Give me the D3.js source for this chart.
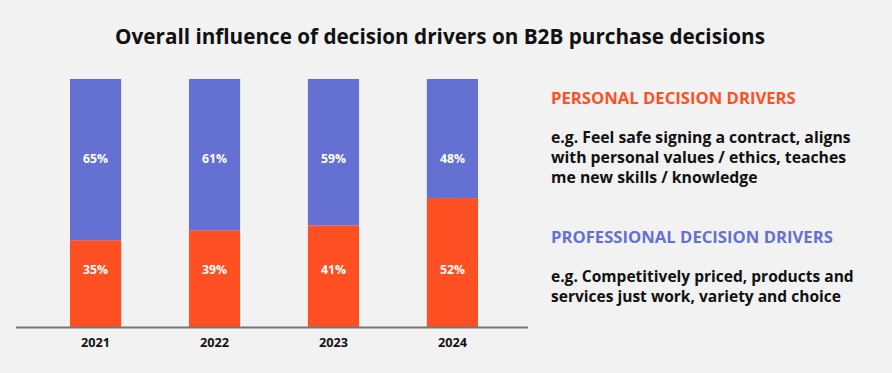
<!DOCTYPE html>
<html>
<head>
<meta charset="utf-8">
<script src="https://cdn.jsdelivr.net/npm/d3@7"></script>
<style>
  body { margin: 0; background: #f2f2f2; }
  svg { display: block; font-family: "Open Sans", "Lato", sans-serif; }
</style>
</head>
<body>
<svg id="chart"></svg>
<script>
var years = ["2021", "2022", "2023", "2024"]
var personal = [35, 39, 41, 52]
var professional = [65, 61, 59, 48]

var personalTitle = "PERSONAL DECISION DRIVERS"
var personalText = ["e.g. Feel safe signing a contract, aligns", "with personal values / ethics, teaches", "me new skills / knowledge"]
var professionalTitle = "PROFESSIONAL DECISION DRIVERS"
var professionalText = ["e.g. Competitively priced, products and", "services just work, variety and choice"]

var dimensions = {
    width: 892,
    height: 373,
    margin: { top: 79, bottom: 46, left: 70, right: 414 }
}
var orange = "#ff5024"
var blue = "#6470d2"

var svg = d3.select("#chart")
            .attr("width", dimensions.width)
            .attr("height", dimensions.height)

svg.append("rect")
   .attr("width", dimensions.width)
   .attr("height", dimensions.height)
   .attr("fill", "#f2f2f2")

// shrink/grow font so that a text node spans the wanted width
function fit(sel, target) {
    var w = sel.node().getComputedTextLength()
    var fs = parseFloat(sel.style("font-size"))
    return fs * target / w
}

var data = years.map((y, i) => ({ year: y, personal: personal[i], professional: professional[i] }))

var xScale = d3.scaleBand()
               .domain(years)
               .range([dimensions.margin.left, dimensions.width - dimensions.margin.right])
               .paddingInner(0.57)
               .paddingOuter(0)

var yScale = d3.scaleLinear()
               .domain([0, 100])
               .range([dimensions.height - dimensions.margin.bottom, dimensions.margin.top])

// personal (bottom)
svg.selectAll(".personal")
   .data(data)
   .enter()
   .append("rect")
   .attr("x", d => xScale(d.year))
   .attr("width", xScale.bandwidth())
   .attr("y", d => yScale(d.personal))
   .attr("height", d => yScale(0) - yScale(d.personal))
   .attr("fill", orange)

// professional (top)
svg.selectAll(".professional")
   .data(data)
   .enter()
   .append("rect")
   .attr("x", d => xScale(d.year))
   .attr("width", xScale.bandwidth())
   .attr("y", d => yScale(d.personal + d.professional))
   .attr("height", d => yScale(d.personal) - yScale(d.personal + d.professional))
   .attr("fill", blue)

// value labels
var lblP = svg.selectAll(".lblP")
   .data(data)
   .enter()
   .append("text")
   .attr("x", d => xScale(d.year) + xScale.bandwidth() / 2)
   .attr("y", yScale(23))
   .attr("dy", "0.35em")
   .attr("text-anchor", "middle")
   .attr("fill", "white")
   .style("font-size", "11px")
   .style("font-weight", "bold")
   .text(d => d.personal + "%")

var lblB = svg.selectAll(".lblB")
   .data(data)
   .enter()
   .append("text")
   .attr("x", d => xScale(d.year) + xScale.bandwidth() / 2)
   .attr("y", yScale(68))
   .attr("dy", "0.35em")
   .attr("text-anchor", "middle")
   .attr("fill", "white")
   .style("font-size", "11px")
   .style("font-weight", "bold")
   .text(d => d.professional + "%")
var lfs = fit(d3.select(lblB.nodes()[0]), 25)
lblP.style("font-size", lfs + "px")
lblB.style("font-size", lfs + "px")

// x axis
var xAxisgen = d3.axisBottom().scale(xScale).tickSize(0).tickPadding(11)
var xAxis = svg.append("g")
               .attr("transform", `translate(0,${yScale(0)})`)
               .call(xAxisgen)
xAxis.select(".domain").remove()
var ticks = xAxis.selectAll("text")
     .style("font-family", "'Open Sans', sans-serif")
     .style("font-size", "12px")
     .style("font-weight", "bold")
     .attr("fill", "#111")
ticks.style("font-size", fit(d3.select(ticks.nodes()[0]), 29) + "px")
svg.append("line")
   .attr("x1", 16).attr("x2", 528)
   .attr("y1", yScale(0) + 0.5).attr("y2", yScale(0) + 0.5)
   .attr("stroke", "#777")
   .attr("stroke-width", 2)

// title
var title = svg.append("text")
   .attr("x", 440)
   .attr("y", 44)
   .attr("text-anchor", "middle")
   .attr("fill", "#111")
   .style("font-size", "20px")
   .style("font-weight", "bold")
   .text("Overall influence of decision drivers on B2B purchase decisions")
title.style("font-size", fit(title, 650) + "px")

// legend text
function block(title, color, lines, y0, titleW, lineW) {
    var t = svg.append("text")
       .attr("x", 551).attr("y", y0)
       .attr("fill", color)
       .style("font-size", "15px")
       .style("font-weight", "bold")
       .text(title)
    t.style("font-size", fit(t, titleW) + "px")
    var body = svg.selectAll(null)
       .data(lines)
       .enter()
       .append("text")
       .attr("x", 551)
       .attr("y", (d, i) => y0 + 39 + i * 20)
       .attr("fill", "#111")
       .style("font-size", "15px")
       .style("font-weight", "bold")
       .text(d => d)
    body.style("font-size", fit(d3.select(body.nodes()[0]), lineW) + "px")
}
block(personalTitle, orange, personalText, 104, 245, 300)
block(professionalTitle, blue, professionalText, 243, 282, 303)
</script>
</body>
</html>
